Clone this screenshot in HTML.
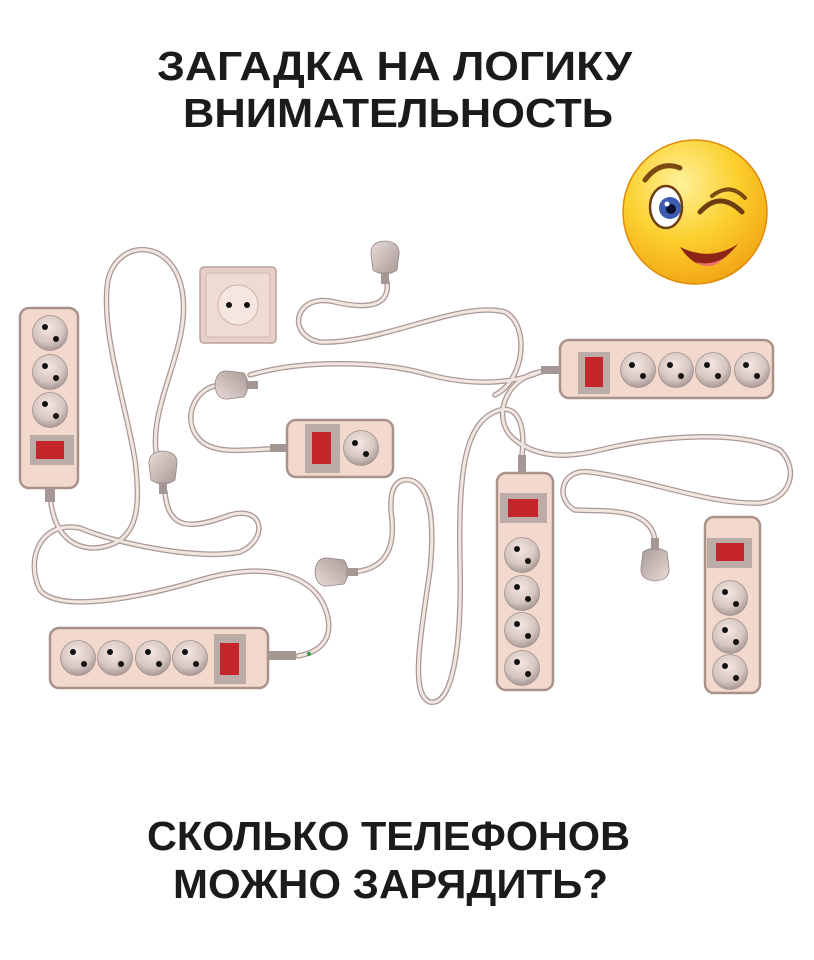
<!DOCTYPE html>
<html><head><meta charset="utf-8"><style>
html,body{margin:0;padding:0;background:#fff;}
svg{display:block}
</style></head><body>
<svg width="814" height="960" viewBox="0 0 814 960" xmlns="http://www.w3.org/2000/svg">
<defs>
<radialGradient id="sk" cx="0.45" cy="0.35" r="0.7">
<stop offset="0" stop-color="#f4e6e2"/><stop offset="0.6" stop-color="#d7c7c3"/><stop offset="1" stop-color="#9f8f8c"/>
</radialGradient>
<radialGradient id="face" cx="0.4" cy="0.3" r="0.8">
<stop offset="0" stop-color="#fff29a"/><stop offset="0.5" stop-color="#fbcf2c"/><stop offset="1" stop-color="#f09c10"/>
</radialGradient>
<linearGradient id="plug" x1="0" y1="0" x2="1" y2="1">
<stop offset="0" stop-color="#e8dcd8"/><stop offset="1" stop-color="#a89996"/>
</linearGradient>
<g id="sock"><circle r="17.5" fill="url(#sk)" stroke="#a2928f" stroke-width="0.8"/><circle cx="-5" cy="-6" r="3" fill="#111"/><circle cx="6" cy="6" r="3" fill="#111"/></g>
<g id="sockr"><circle r="17.5" fill="url(#sk)" stroke="#a2928f" stroke-width="0.8"/><circle cx="-6" cy="-5" r="3" fill="#111"/><circle cx="5" cy="6" r="3" fill="#111"/></g>
<g id="plugv"><path d="M-14,-8 Q-15,-20 0,-21 Q15,-20 14,-8 L12,8 Q0,16 -12,8 Z" fill="url(#plug)" stroke="#958583" stroke-width="0.8"/><rect x="-4" y="10" width="8" height="12" fill="#a59794"/></g>
</defs>

<!-- Titles -->
<g font-family="'Liberation Sans','Noto Sans CJK SC',sans-serif" font-weight="bold" fill="#1b1b1b" font-size="41">
<text x="157" y="80" textLength="475" lengthAdjust="spacingAndGlyphs">ЗАГАДКА НА ЛОГИКУ</text>
<text x="183" y="127" textLength="430" lengthAdjust="spacingAndGlyphs">ВНИМАТЕЛЬНОСТЬ</text>
<text x="147" y="850" textLength="483" lengthAdjust="spacingAndGlyphs">СКОЛЬКО ТЕЛЕФОНОВ</text>
<text x="173" y="898" textLength="435" lengthAdjust="spacingAndGlyphs">МОЖНО ЗАРЯДИТЬ?</text>
</g>

<!-- Emoji -->
<g>
<circle cx="695" cy="212" r="72" fill="url(#face)" stroke="#e08a0a" stroke-width="1.5"/>
<path d="M645,180 Q660,160 680,168" stroke="#7a4a12" stroke-width="5" fill="none" stroke-linecap="round"/>
<ellipse cx="666" cy="207" rx="16" ry="21" fill="#fff" stroke="#6b3d10" stroke-width="2.5"/>
<circle cx="670" cy="208" r="11" fill="#3d5bb0"/><circle cx="671" cy="209" r="5" fill="#0a1030"/><circle cx="667" cy="204" r="2.5" fill="#fff"/>
<path d="M700,212 Q720,190 742,212" stroke="#6b3d10" stroke-width="5" fill="none" stroke-linecap="round"/>
<path d="M712,196 Q730,182 745,198" stroke="#7a4a12" stroke-width="4" fill="none" stroke-linecap="round"/>
<path d="M680,247 Q705,285 738,244 Q710,262 680,247 Z" fill="#8c2418"/>
<path d="M696,262 Q710,272 724,258 Q710,266 696,262Z" fill="#ee6f6a"/>
</g>

<!-- Cords -->
<g fill="none" stroke-linecap="round">
<g stroke="#a99995" stroke-width="5.5">
<path id="c1" d="M50,492 C52,540 80,555 110,545 C140,535 140,500 135,460 C125,400 100,330 108,280 C118,238 172,238 182,290 C192,345 150,400 156,452"/>
<path id="c2" d="M165,492 C168,530 190,530 230,515 C265,505 268,540 240,552 C200,560 120,545 80,528 C40,520 25,560 40,590 C60,615 150,595 200,580 C260,562 318,570 328,618 C332,640 320,652 298,656"/>
<path id="c3" d="M387,282 C390,305 370,310 335,302 C295,292 285,335 320,342 C380,345 460,300 505,312 C530,325 525,380 495,395"/>
<path id="c4" d="M222,385 C195,385 180,420 200,440 C215,455 245,450 285,448"/>
<path id="c5" d="M250,375 C300,360 380,360 430,375 C470,385 510,385 540,372 L555,370"/>
<path id="c6" d="M352,572 C380,570 395,555 392,520 C388,490 395,478 410,480 C430,485 435,520 430,570 C420,640 410,695 430,702 C452,706 462,650 460,560 C458,470 465,420 500,410 C520,405 525,430 522,455"/>
<path id="c7" d="M540,372 C505,378 490,420 515,440 C535,455 560,460 600,450 C660,435 740,430 780,450 C800,470 790,500 760,503 C710,505 650,480 590,472 C560,468 555,500 575,510 C600,512 650,505 655,540"/>
</g>
<g stroke="#f1e6e1" stroke-width="3">
<use href="#c1"/><use href="#c2"/><use href="#c3"/><use href="#c4"/><use href="#c5"/><use href="#c6"/><use href="#c7"/>
</g>
</g>

<!-- Plugs -->
<use href="#plugv" transform="translate(385,262)"/>
<use href="#plugv" transform="translate(163,472)"/>
<use href="#plugv" transform="translate(655,560) rotate(180)"/>
<use href="#plugv" transform="translate(236,385) rotate(-90)"/>
<use href="#plugv" transform="translate(336,572) rotate(-90)"/>

<!-- Wall socket -->
<rect x="200" y="267" width="76" height="76" rx="4" fill="#e6cfc6" stroke="#b9a39b" stroke-width="1.5"/>
<rect x="206" y="273" width="64" height="64" rx="3" fill="#efdbd2" stroke="#cdb8b0"/>
<circle cx="238" cy="305" r="20" fill="#f6e6e0" stroke="#cbb4ac"/>
<circle cx="229" cy="305" r="3" fill="#111"/><circle cx="247" cy="305" r="3" fill="#111"/>

<!-- Strip 1 left vertical -->
<rect x="20" y="308" width="58" height="180" rx="9" fill="#f3d9cd" stroke="#a8928a" stroke-width="2.5"/>
<use href="#sock" transform="translate(50,333)"/>
<use href="#sock" transform="translate(50,372)"/>
<use href="#sock" transform="translate(50,410)"/>
<rect x="30" y="435" width="44" height="30" fill="#bcaca7"/><rect x="36" y="441" width="28" height="18" fill="#c4262c"/>
<rect x="45" y="488" width="10" height="14" fill="#a59794"/>

<!-- Strip 3 small -->
<rect x="287" y="420" width="106" height="57" rx="9" fill="#f3d9cd" stroke="#a8928a" stroke-width="2.5"/>
<rect x="305" y="424" width="35" height="49" fill="#bcaca7"/><rect x="312" y="432" width="19" height="32" fill="#c4262c"/>
<use href="#sockr" transform="translate(361,448)"/>
<rect x="270" y="444" width="17" height="8" fill="#a59794"/>

<!-- Strip 4 top right -->
<rect x="560" y="340" width="213" height="58" rx="9" fill="#f3d9cd" stroke="#a8928a" stroke-width="2.5"/>
<rect x="578" y="352" width="32" height="42" fill="#bcaca7"/><rect x="585" y="357" width="18" height="30" fill="#c4262c"/>
<use href="#sockr" transform="translate(638,370)"/>
<use href="#sockr" transform="translate(676,370)"/>
<use href="#sockr" transform="translate(713,370)"/>
<use href="#sockr" transform="translate(752,370)"/>
<rect x="541" y="366" width="19" height="8" fill="#a59794"/>

<!-- Strip 5 middle vertical -->
<rect x="497" y="473" width="56" height="217" rx="9" fill="#f3d9cd" stroke="#a8928a" stroke-width="2.5"/>
<rect x="500" y="493" width="47" height="30" fill="#bcaca7"/><rect x="508" y="499" width="30" height="18" fill="#c4262c"/>
<use href="#sock" transform="translate(522,555)"/>
<use href="#sock" transform="translate(522,593)"/>
<use href="#sock" transform="translate(522,630)"/>
<use href="#sock" transform="translate(522,668)"/>
<rect x="518" y="455" width="8" height="18" fill="#a59794"/>

<!-- Strip 6 right vertical -->
<rect x="705" y="517" width="55" height="176" rx="9" fill="#f3d9cd" stroke="#a8928a" stroke-width="2.5"/>
<rect x="707" y="538" width="45" height="30" fill="#bcaca7"/><rect x="716" y="543" width="28" height="18" fill="#c4262c"/>
<use href="#sock" transform="translate(730,598)"/>
<use href="#sock" transform="translate(730,636)"/>
<use href="#sock" transform="translate(730,672)"/>

<!-- Strip 7 bottom -->
<rect x="50" y="628" width="218" height="60" rx="9" fill="#f3d9cd" stroke="#a8928a" stroke-width="2.5"/>
<use href="#sock" transform="translate(78,658)"/>
<use href="#sock" transform="translate(115,658)"/>
<use href="#sock" transform="translate(153,658)"/>
<use href="#sock" transform="translate(190,658)"/>
<rect x="214" y="634" width="32" height="50" fill="#bcaca7"/><rect x="220" y="643" width="19" height="32" fill="#c4262c"/>
<rect x="268" y="651" width="28" height="9" fill="#a59794"/>
<circle cx="309" cy="654" r="2" fill="#3a9a3a"/>
</svg>
</body></html>
